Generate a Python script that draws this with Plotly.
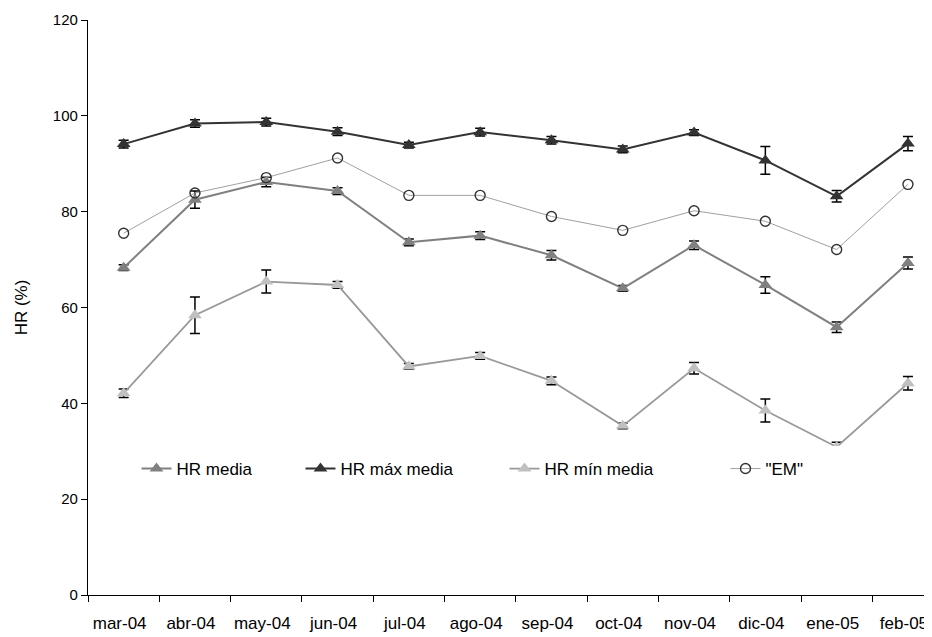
import plotly.graph_objects as go

months = ["mar-04", "abr-04", "may-04", "jun-04", "jul-04", "ago-04",
          "sep-04", "oct-04", "nov-04", "dic-04", "ene-05", "feb-05"]

hr_media = [68.3, 82.5, 86.2, 84.3, 73.6, 75.0, 70.9, 64.0, 73.0, 64.7, 55.9, 69.3]
hr_media_err = [0.6, 1.8, 1.0, 0.7, 0.7, 0.8, 1.0, 0.6, 0.9, 1.7, 1.1, 1.25]

hr_max = [94.1, 98.4, 98.7, 96.7, 93.9, 96.6, 94.9, 93.0, 96.5, 90.7, 83.2, 94.2]
hr_max_err = [0.8, 0.8, 0.8, 0.8, 0.6, 0.8, 0.8, 0.7, 0.6, 2.9, 1.2, 1.5]

hr_min = [42.1, 58.4, 65.4, 64.7, 47.7, 49.9, 44.7, 35.3, 47.3, 38.5, 30.9, 44.2]
hr_min_err = [0.9, 3.8, 2.4, 0.7, 0.6, 0.7, 0.8, 0.6, 1.2, 2.4, 1.0, 1.4]

em = [75.5, 83.9, 87.1, 91.2, 83.4, 83.4, 79.0, 76.1, 80.2, 78.0, 72.1, 85.7]

FONT = "Liberation Sans, Arial, sans-serif"

def err(vals):
    return dict(type="data", array=vals, visible=True, color="black",
                thickness=1.5, width=5)

fig = go.Figure()
fig.add_trace(go.Scatter(
    x=months, y=hr_media, name="HR media", mode="lines+markers",
    line=dict(color="#808080", width=2),
    marker=dict(symbol="triangle-up", size=12, color="#808080"),
    error_y=err(hr_media_err), legend="legend"))
fig.add_trace(go.Scatter(
    x=months, y=hr_max, name="HR máx media", mode="lines+markers",
    line=dict(color="#333333", width=2),
    marker=dict(symbol="triangle-up", size=12, color="#333333"),
    error_y=err(hr_max_err), legend="legend2"))
fig.add_trace(go.Scatter(
    x=months, y=hr_min, name="HR mín media", mode="lines+markers",
    line=dict(color="#999999", width=1.8),
    marker=dict(symbol="triangle-up", size=12, color="#c0c0c0"),
    error_y=err(hr_min_err), legend="legend3"))
fig.add_trace(go.Scatter(
    x=months, y=em, name='"EM"', mode="lines+markers",
    line=dict(color="#a0a0a0", width=1),
    marker=dict(symbol="circle-open", size=10, color="#333333",
                line=dict(width=1.4, color="#333333")),
    legend="legend4"))

# page body has an 8px default margin; compensate so the plot lands
# where the reference has it (axis at x=88, top at y=20, bottom at y=595)
OFF = 8
W, H = 932, 637
L, T, B = 88 - OFF, 20 - OFF, H + OFF - 595
pw = W - L
ph = H - T - B
SPACING = 71.3
xmax = -0.5 + pw / SPACING

def px_x(px):
    return (px - OFF - L) / pw

def px_y(py):
    return (H + OFF - B - py) / ph

def cx(px):
    return (px - OFF) / W

def cy(py):
    return 1 - (py - OFF) / H

leg_common = dict(orientation="h", yanchor="middle", xref="container",
                  yref="container", y=cy(469),
                  bgcolor="rgba(0,0,0,0)",
                  font=dict(family=FONT, size=17, color="black"),
                  itemwidth=30)

fig.update_layout(
    width=W, height=H,
    margin=dict(l=L, r=0, t=T, b=B, autoexpand=False),
    paper_bgcolor="white", plot_bgcolor="white",
    font=dict(family=FONT, size=15, color="black"),
    showlegend=True,
    legend=dict(x=cx(177 - 40.5), **leg_common),
    legend2=dict(x=cx(341 - 40.5), **leg_common),
    legend3=dict(x=cx(545 - 40.5), **leg_common),
    legend4=dict(x=cx(766 - 40.5), **leg_common),
    shapes=[dict(type="rect", xref="paper", yref="paper", layer="above",
                 x0=px_x(105), x1=px_x(855), y0=px_y(492), y1=px_y(446),
                 fillcolor="white", line=dict(width=0))],
    xaxis=dict(type="category", range=[-0.5, xmax], showgrid=False,
               showline=True, linecolor="black", linewidth=1.2,
               ticks="outside", tickson="boundaries", ticklen=6,
               tickcolor="black", tickfont=dict(family=FONT, size=17),
               ticklabelstandoff=12, ticklabelshift=-4,
               zeroline=False, automargin=False),
    yaxis=dict(range=[0, 120], tickvals=[0, 20, 40, 60, 80, 100, 120],
               showgrid=False, showline=True, linecolor="black", linewidth=1.2,
               ticks="outside", ticklen=6, tickcolor="black",
               tickfont=dict(family=FONT, size=15), zeroline=False,
               automargin=False,
               title=dict(text="HR (%)", font=dict(family=FONT, size=17),
                          standoff=20)),
)

fig.write_html("out.html")
